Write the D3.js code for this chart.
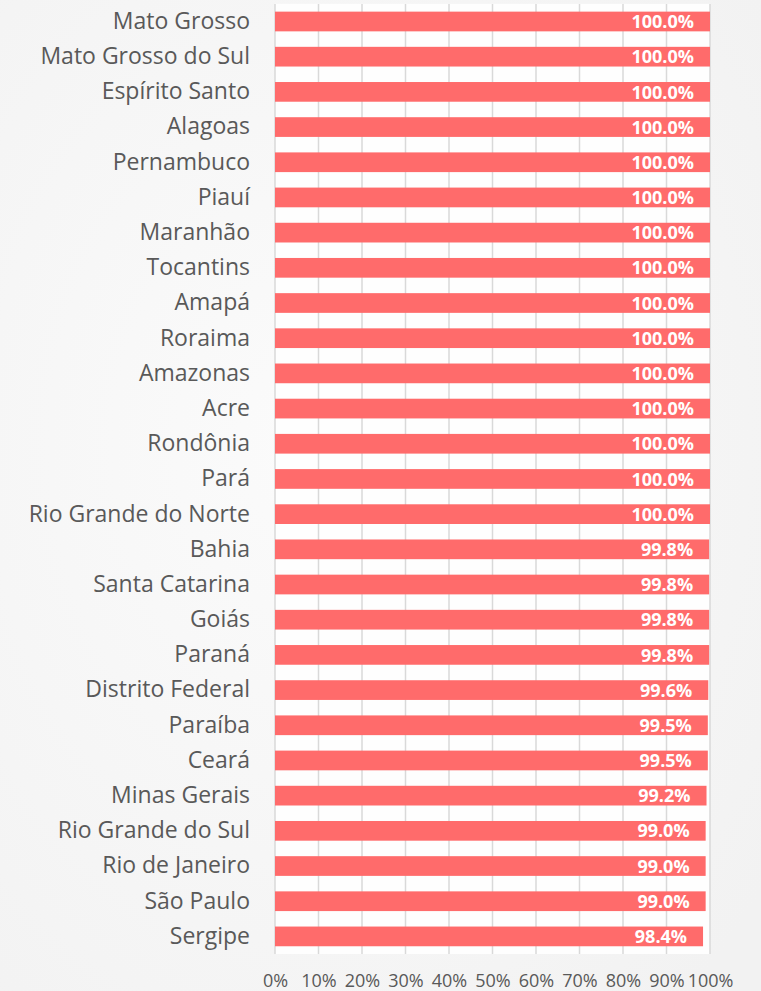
<!DOCTYPE html>
<html>
<head>
<meta charset="utf-8">
<script src="https://cdn.jsdelivr.net/npm/d3@7"></script>
<style>
  html, body { margin: 0; padding: 0; background: #f6f6f6; }
  svg { display: block; }
</style>
</head>
<body>
<svg id="chart" width="761" height="991"></svg>
<script>
// States ordered top to bottom
const states = [
  "Mato Grosso", "Mato Grosso do Sul", "Espírito Santo", "Alagoas", "Pernambuco",
  "Piauí", "Maranhão", "Tocantins", "Amapá", "Roraima", "Amazonas", "Acre",
  "Rondônia", "Pará", "Rio Grande do Norte", "Bahia", "Santa Catarina", "Goiás",
  "Paraná", "Distrito Federal", "Paraíba", "Ceará", "Minas Gerais",
  "Rio Grande do Sul", "Rio de Janeiro", "São Paulo", "Sergipe"
];
// Share in percent
const shares = [
  100.0, 100.0, 100.0, 100.0, 100.0, 100.0, 100.0, 100.0, 100.0, 100.0, 100.0, 100.0,
  100.0, 100.0, 100.0, 99.8, 99.8, 99.8, 99.8, 99.6, 99.5, 99.5, 99.2,
  99.0, 99.0, 99.0, 98.4
];
const tickValues = [0, 10, 20, 30, 40, 50, 60, 70, 80, 90, 100];

const data = states.map((s, i) => ({ state: s, value: shares[i] }));

const svg = d3.select("#chart");
const W = 761, H = 991;
const plotLeft = 275, plotRight = 710, plotTop = 3.9, plotBottom = 954;
const font = "'Open Sans', 'Noto Sans', sans-serif";

// soft off-white backdrop
const defs = svg.append("defs");
const grad = defs.append("radialGradient").attr("id", "bg").attr("cx", "40%").attr("cy", "45%").attr("r", "75%");
grad.append("stop").attr("offset", "0%").attr("stop-color", "#fbfbfb");
grad.append("stop").attr("offset", "100%").attr("stop-color", "#f2f2f2");
svg.append("rect").attr("width", W).attr("height", H).attr("fill", "url(#bg)");

const x = d3.scaleLinear().domain([0, 100]).range([plotLeft, plotRight]);
const y = d3.scaleBand().domain(states).range([plotTop, plotBottom]).paddingInner(0.44).paddingOuter(0.22);

// plot area
svg.append("rect").attr("x", plotLeft).attr("y", plotTop)
  .attr("width", plotRight - plotLeft).attr("height", plotBottom - plotTop)
  .attr("fill", "#fefefe");

// vertical gridlines
svg.append("g").selectAll("line").data(tickValues).join("line")
  .attr("x1", d => x(d)).attr("x2", d => x(d))
  .attr("y1", plotTop).attr("y2", plotBottom)
  .attr("stroke", "#d9d9d9").attr("stroke-width", 1.5);

// bars
svg.append("g").selectAll("rect").data(data).join("rect")
  .attr("x", x(0)).attr("y", d => y(d.state))
  .attr("width", d => x(d.value) - x(0))
  .attr("height", y.bandwidth())
  .attr("fill", "#ff6b6b");

// value labels
svg.append("g").selectAll("text").data(data).join("text")
  .attr("x", d => x(d.value) - 16)
  .attr("y", d => y(d.state) + y.bandwidth() / 2)
  .attr("dy", "0.37em")
  .attr("text-anchor", "end")
  .attr("fill", "#ffffff")
  .attr("font-family", font)
  .attr("font-weight", "bold")
  .attr("font-size", 18)
  .text(d => d.value.toFixed(1) + "%");

// category axis
const yAxis = d3.axisLeft(y).tickSize(0).tickPadding(25);
const gy = svg.append("g").attr("transform", `translate(${plotLeft},0)`).call(yAxis);
gy.select(".domain").remove();
gy.selectAll("text").attr("font-family", font).attr("font-size", 23).attr("fill", "#595959");

// value axis
const xAxis = d3.axisBottom(x).tickValues(tickValues).tickSize(0).tickPadding(20).tickFormat(d => d + "%");
const gx = svg.append("g").attr("transform", `translate(0,${plotBottom})`).call(xAxis);
gx.select(".domain").remove();
gx.selectAll("text").attr("font-family", font).attr("font-size", 18).attr("fill", "#595959");
</script>
</body>
</html>
